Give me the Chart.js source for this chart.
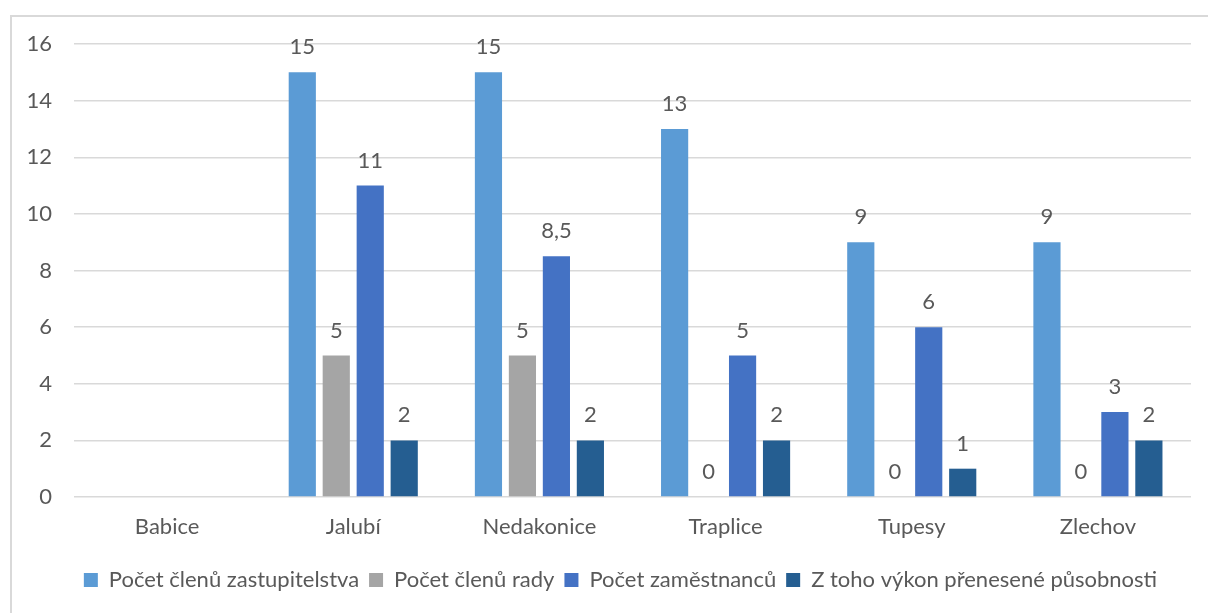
<!DOCTYPE html>
<html>
<head>
<meta charset="utf-8">
<script src="https://cdn.jsdelivr.net/npm/chart.js@4"></script>
<style>
  html, body { margin: 0; padding: 0; background: #fff; }
  #frame {
    position: absolute; left: 10px; top: 15px; width: 1300px; height: 700px;
    border-left: 2px solid #d9d9d9; border-top: 2px solid #d9d9d9;
  }
  #wrap { position: absolute; left: 0; top: 0; width: 1208px; height: 613px; }
</style>
</head>
<body>
<div id="frame"></div>
<div id="wrap"><canvas id="graf" width="1208" height="613"></canvas></div>
<script>
const obce = ['Babice', 'Jalubí', 'Nedakonice', 'Traplice', 'Tupesy', 'Zlechov'];
const zastupitelstvo = [null, 15, 15, 13, 9, 9];
const rada = [null, 5, 5, 0, 0, 0];
const zamestnanci = [null, 11, 8.5, 5, 6, 3];
const prenesena = [null, 2, 2, 2, 1, 2];
const osaY = [0, 2, 4, 6, 8, 10, 12, 14, 16];

const pismo = 'Lato, "Open Sans", sans-serif';
const seda = '#595959';

// popisky hodnot nad sloupci
const popisky = {
    id: 'popisky',
    afterLayout(chart) {
        // legenda je v originale posunuta na stred celeho ramecku
        chart.legend.left += 20;
        chart.legend.right += 20;
    },
    afterDatasetsDraw(chart) {
        const ctx = chart.ctx;
        ctx.save();
        ctx.font = '22px ' + pismo;
        ctx.fillStyle = seda;
        ctx.textAlign = 'center';
        ctx.textBaseline = 'middle';
        chart.data.datasets.forEach(function (ds, i) {
            chart.getDatasetMeta(i).data.forEach(function (bar, j) {
                const v = ds.data[j];
                if (v === null) return;
                ctx.fillText(String(v).replace('.', ','), bar.x, bar.y - 25);
            });
        });
        ctx.restore();
    }
};

new Chart(document.getElementById('graf'), {
    type: 'bar',
    data: {
        labels: obce,
        datasets: [
            { label: 'Počet členů zastupitelstva', data: zastupitelstvo, backgroundColor: '#5b9bd5' },
            { label: 'Počet členů rady', data: rada, backgroundColor: '#a5a5a5' },
            { label: 'Počet zaměstnanců', data: zamestnanci, backgroundColor: '#4472c4' },
            { label: 'Z toho výkon přenesené působnosti', data: prenesena, backgroundColor: '#255e91' }
        ]
    },
    options: {
        responsive: false,
        animation: false,
        categoryPercentage: 0.73,
        barPercentage: 0.8,
        layout: { padding: { left: 10, right: 17, top: 44, bottom: 12 } },
        plugins: {
            tooltip: { enabled: false },
            legend: {
                position: 'bottom',
                labels: {
                    boxWidth: 14, boxHeight: 14, padding: 10,
                    color: seda,
                    font: { family: pismo, size: 22 }
                }
            }
        },
        scales: {
            x: {
                grid: { display: false, drawTicks: false },
                border: { display: false },
                ticks: { color: seda, font: { family: pismo, size: 22 }, padding: 17 },
                afterFit(s) { s.height = 62; }
            },
            y: {
                min: 0, max: 16,
                afterBuildTicks(s) { s.ticks = osaY.map(v => ({ value: v })); },
                grid: { color: '#d9d9d9', lineWidth: 1.5, drawTicks: false },
                border: { display: false },
                ticks: { color: seda, font: { family: pismo, size: 22 }, padding: 22 },
                afterFit(s) { s.width = 64; }
            }
        }
    },
    plugins: [popisky]
});
</script>
</body>
</html>
